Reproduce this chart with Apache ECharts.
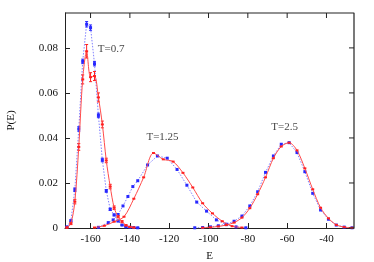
<!DOCTYPE html>
<html><head><meta charset="utf-8">
<script src="https://cdn.jsdelivr.net/npm/echarts@6/dist/echarts.min.js"></script>
<style>html,body{margin:0;padding:0;background:#fff;overflow:hidden}#c{width:374px;height:262px}</style>
</head><body><div id="c"></div>
<script>
// T=0.7
const eRed07 = [-172,-170,-168,-166,-164,-162,-160,-158,-156,-154,-152,-150,-148,-146,-144,-142,-140,-138];
const pRed07 = [0.0002,0.002,0.0117,0.036,0.066,0.0785,0.067,0.0675,0.058,0.046,0.030,0.0184,0.009,0.005,0.0028,0.0012,0.0005,0.0002];
const errRed07 = [0.0003,0.0005,0.001,0.0015,0.002,0.003,0.002,0.002,0.002,0.0015,0.001,0.001,0.0008,0.0005,0.0005,0.0003,0.0002,0.0002];
const eBlue07 = [-172,-170,-168,-166,-164,-162,-160,-158,-156,-154,-152,-150,-148,-146,-144,-142,-140,-138,-136];
const pBlue07 = [0.0005,0.0032,0.017,0.044,0.074,0.0905,0.089,0.073,0.050,0.0302,0.0165,0.0083,0.0058,0.0031,0.0013,0.0005,0.0003,0.0002,0.0001];
const errBlue07 = [0.0002,0.0004,0.0008,0.001,0.001,0.0012,0.0012,0.001,0.001,0.0008,0.0006,0.0005,0.0004,0.0003,0.0002,0.0002,0.0001,0.0001,0.0001];
// T=1.25
const eRed125 = [-158,-153,-148,-143,-138,-133,-128,-123,-118,-113,-108,-103,-98,-93,-88,-83];
const pRed125 = [0.0002,0.001,0.0028,0.005,0.013,0.0225,0.0333,0.0305,0.0295,0.0245,0.018,0.011,0.0065,0.003,0.0008,0.0002];
const eBlue125 = [-156,-151,-148.5,-146,-143.5,-141,-138.5,-136,-131,-126,-121,-116,-111,-106,-101,-96,-91,-86,-81];
const pBlue125 = [0.0003,0.0024,0.0036,0.006,0.0098,0.014,0.0184,0.021,0.028,0.032,0.031,0.026,0.019,0.0115,0.0075,0.0036,0.0015,0.0005,0.0001];
// T=2.5
const eRed25 = [-103,-99,-95,-91,-87,-83,-79,-75,-71,-67,-63,-59,-55,-51,-47,-43,-39,-35,-31,-27];
const pRed25 = [0.0001,0.0003,0.0007,0.0013,0.0024,0.0046,0.0088,0.015,0.0225,0.031,0.0362,0.0379,0.0345,0.0265,0.0172,0.009,0.0043,0.0014,0.0004,0.0001];
const eBlue25 = [-107,-103,-99,-95,-91,-87,-83,-79,-75,-71,-67,-63,-59,-55,-51,-47,-43,-39,-35,-31,-27];
const pBlue25 = [0.0001,0.0002,0.0005,0.001,0.0017,0.003,0.0053,0.0098,0.0161,0.0247,0.032,0.0372,0.0379,0.0335,0.025,0.0154,0.008,0.0039,0.0013,0.0004,0.0001];
// annotations
const labelTexts = ['T=0.7','T=1.25','T=2.5'];
const labelE = [-149.5,-123.4,-61.3];
const labelP = [0.0795,0.0404,0.0449];
// ticks
const xTicks = [-160,-140,-120,-100,-80,-60,-40];
const yTicks = [0,0.02,0.04,0.06,0.08];
const X_MIN = -173, X_MAX = -26, Y_MIN = 0, Y_MAX = 0.0955;

const zip = (a,b) => a.map((v,i)=>[v,b[i]]);
const zip3 = (a,b,c) => a.map((v,i)=>[v,b[i],c[i]]);
const FONT = 'Liberation Serif';
const RED = '#ff2020', REDL = '#ff4a4a', BLUE = '#2828ff', BLUEL = '#8080ff', AX = '#222';

function errSeries(data, color){
  return {type:'custom', z:3, silent:true,
    renderItem:(params, api)=>{
      const x=api.value(0), y=api.value(1), e=api.value(2);
      const top=api.coord([x,y+e]), bot=api.coord([x,y-e]);
      const w=1.5;
      const st={stroke:color, lineWidth:1};
      return {type:'group', children:[
        {type:'line', shape:{x1:top[0],y1:top[1],x2:bot[0],y2:bot[1]}, style:st},
        {type:'line', shape:{x1:top[0]-w,y1:top[1],x2:top[0]+w,y2:top[1]}, style:st},
        {type:'line', shape:{x1:bot[0]-w,y1:bot[1],x2:bot[0]+w,y2:bot[1]}, style:st}
      ]};
    },
    data:data};
}
// top & right border as a plain line series along the axis extents
const borderSeries = {type:'line', z:10, silent:true, clip:false, symbol:'none',
  lineStyle:{color:AX, width:1.2}, data:[[X_MIN,Y_MAX],[X_MAX,Y_MAX],[X_MAX,Y_MIN]]};
// mirrored inward ticks on top and right edges
const mirrorTicks = {type:'custom', z:10, silent:true, clip:false,
  renderItem:(params, api)=>{
    const ch = [];
    xTicks.forEach(v=>{ const p = api.coord([v, Y_MAX]);
      ch.push({type:'line', shape:{x1:p[0],y1:p[1],x2:p[0],y2:p[1]+5}, style:{stroke:AX, lineWidth:1}}); });
    yTicks.forEach(v=>{ const p = api.coord([X_MAX, v]);
      ch.push({type:'line', shape:{x1:p[0],y1:p[1],x2:p[0]-5,y2:p[1]}, style:{stroke:AX, lineWidth:1}}); });
    return {type:'group', children:ch};
  },
  data:[[-100, 0.05]]};

function redLine(e,p){
  return {type:'line', data:zip(e,p), smooth:0.3, z:4, symbol:'rect', symbolSize:[3,2],
    itemStyle:{color:RED}, lineStyle:{color:REDL, width:1}};
}
function blueLine(e,p){
  return {type:'line', data:zip(e,p), z:2, symbol:'rect', symbolSize:3,
    itemStyle:{color:BLUE}, lineStyle:{color:BLUEL, width:1, type:[1.5,1.5]}};
}
const axisLine = {show:true, onZero:false, lineStyle:{color:AX, width:1}};
const tick = (vals)=>({show:true, inside:true, length:5, lineStyle:{color:AX}, customValues:vals});
const chart = echarts.init(document.getElementById('c'), null, {renderer:'canvas'});
chart.setOption({
  animation:false,
  backgroundColor:'#fff',
  grid:{left:65, right:20, top:13, bottom:34, containLabel:false, outerBoundsMode:'none'},
  xAxis:{type:'value', min:X_MIN, max:X_MAX,
     name:'E', nameLocation:'middle', nameGap:23, nameTextStyle:{fontFamily:FONT, fontSize:11, color:'#111'},
     axisLine:axisLine, splitLine:{show:false}, axisTick:tick(xTicks),
     axisLabel:{fontFamily:FONT, fontSize:11, color:'#111', margin:6, customValues:xTicks}},
  yAxis:{type:'value', min:Y_MIN, max:Y_MAX,
     name:'P(E)', nameLocation:'middle', nameGap:48, nameRotate:90, nameTextStyle:{fontFamily:FONT, fontSize:11, color:'#111'},
     axisLine:axisLine, splitLine:{show:false}, axisTick:tick(yTicks),
     axisLabel:{fontFamily:FONT, fontSize:11, color:'#111', margin:7, customValues:yTicks,
       formatter:v=> v===0 ? '0' : v.toFixed(2)}},
  series:[
    blueLine(eBlue07,pBlue07), blueLine(eBlue125,pBlue125), blueLine(eBlue25,pBlue25),
    errSeries(zip3(eBlue07,pBlue07,errBlue07), BLUE),
    redLine(eRed07,pRed07), redLine(eRed125,pRed125), redLine(eRed25,pRed25),
    errSeries(zip3(eRed07,pRed07,errRed07), RED),
    borderSeries, mirrorTicks,
    {type:'scatter', symbolSize:0, z:6, silent:true,
     data:labelTexts.map((t,i)=>({value:[labelE[i],labelP[i]], name:t})),
     label:{show:true, position:'inside', formatter:p=>p.name, fontFamily:FONT, fontSize:11, color:'#111'}}
  ]
});
</script></body></html>
